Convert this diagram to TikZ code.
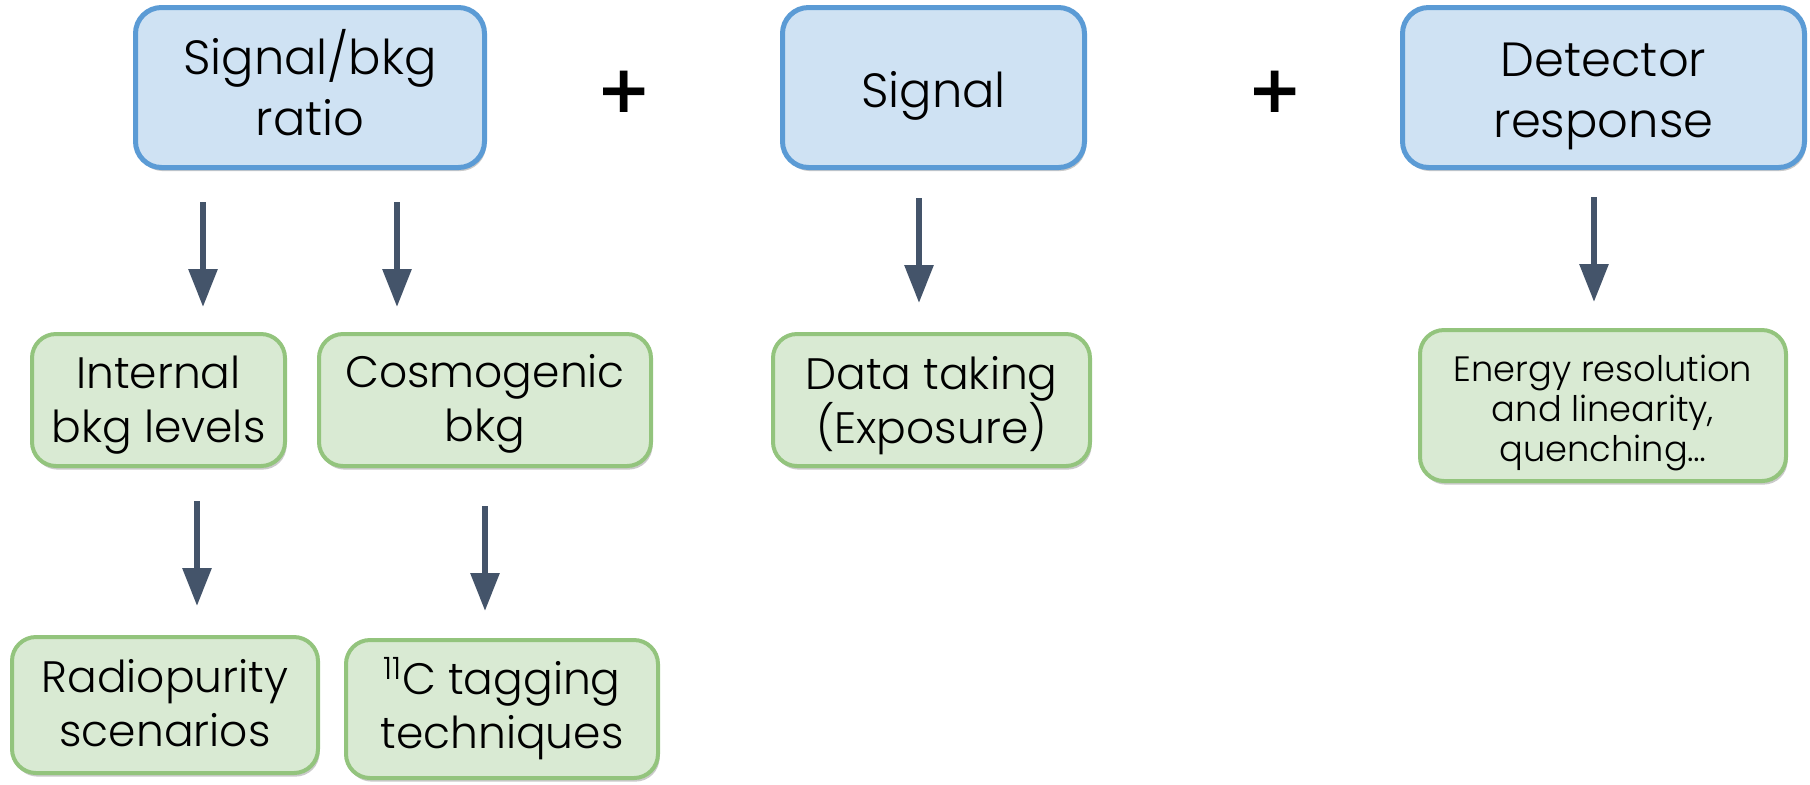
\documentclass[tikz,border=0pt]{standalone}
\usepackage{fontspec}
\setmainfont{Poppins}[UprightFont={* Light}]
\newfontfamily\plusfont{DejaVu Sans}[UprightFont={* Bold}]
\usetikzlibrary{arrows.meta,shadows}
\definecolor{bluefill}{HTML}{CFE2F3}
\definecolor{blueline}{HTML}{5B9BD5}
\definecolor{greenfill}{HTML}{D9EAD3}
\definecolor{greenline}{HTML}{93C47D}
\definecolor{arrowcol}{HTML}{44546A}
\tikzset{
  topbox/.style={draw=blueline, fill=bluefill, line width=2.5pt, rounded corners=13pt,
    inner sep=0pt, minimum height=80pt,
    drop shadow={shadow xshift=0.8pt, shadow yshift=-1.8pt, opacity=0.35, fill=black!60}},
  subbox/.style={draw=greenline, fill=greenfill, line width=2pt, rounded corners=12pt,
    inner sep=0pt, minimum height=66pt,
    drop shadow={shadow xshift=0.8pt, shadow yshift=-1.8pt, opacity=0.35, fill=black!60}},
  toptext/.style={align=center, inner sep=0pt, font=\fontsize{24}{30.5}\selectfont},
  subtext/.style={align=center, inner sep=0pt, font=\fontsize{22}{27}\selectfont},
  smalltext/.style={align=center, inner sep=0pt, font=\fontsize{17.6}{20}\selectfont},
  downarrow/.style={draw=arrowcol, line width=3pt, -{Triangle[width=14pt,length=19pt]}, arrowcol},
  plussign/.style={font=\plusfont\fontsize{33}{33}\selectfont, inner sep=0pt}
}
\begin{document}
\begin{tikzpicture}[x=0.5pt,y=-0.5pt]
\useasboundingbox (0,0) rectangle (1810,784);
% top boxes
\node[topbox, minimum width=174.5pt] (B1) at (310,87.5) {};
\node[toptext, yshift=2.5pt] (B1t) at (B1) {Signal/bkg\\ratio};
\node[topbox, minimum width=151pt] (B2) at (933.5,87.5) {};
\node[toptext, yshift=-4pt] (B2t) at (B2) {Signal};
\node[topbox, minimum width=201pt] (B3) at (1603.5,87.5) {};
\node[toptext, yshift=-4.3pt] (B3t) at (B3) {Detector\\response};
% plus signs
\node[plussign] (P1) at (624,92) {+};
\node[plussign] (P2) at (1275,92) {+};
% second row
\node[subbox, minimum width=126.5pt] (G1) at (158.5,400) {};
\node[subtext, yshift=-2.6pt] (G1t) at (G1) {Internal\\bkg levels};
\node[subbox, minimum width=166pt] (G2) at (485,400) {};
\node[subtext, yshift=-2pt] (G2t) at (G2) {Cosmogenic\\bkg};
\node[subbox, minimum width=158.5pt] (G3) at (931.5,400) {};
\node[subtext, yshift=-2.9pt] (G3t) at (G3) {Data taking\\(Exposure)};
\node[subbox, minimum width=183pt, minimum height=75.5pt] (G4) at (1603,405.5) {};
\node[smalltext, yshift=-3.5pt] (G4t) at (G4) {Energy resolution\\and linearity,\\quenching…};
% third row
\node[subbox, minimum width=153pt, minimum height=68pt] (G5) at (165,705) {};
\node[subtext, yshift=0.8pt] (G5t) at (G5) {Radiopurity\\scenarios};
\node[subbox, minimum width=156pt, minimum height=69pt] (G6) at (502,709) {};
\node[subtext] (G6t) at (G6) {\textsuperscript{11}C tagging\\techniques};
% arrow end points
\coordinate (a1s) at (203,202); \coordinate (a1e) at (203,307);
\coordinate (a2s) at (397,202); \coordinate (a2e) at (397,307);
\coordinate (a3s) at (919,198); \coordinate (a3e) at (919,303);
\coordinate (a4s) at (1594,197); \coordinate (a4e) at (1594,302);
\coordinate (a5s) at (197,501); \coordinate (a5e) at (197,606);
\coordinate (a6s) at (485,506); \coordinate (a6e) at (485,611);
\draw[downarrow] (a1s) -- (a1e);
\draw[downarrow] (a2s) -- (a2e);
\draw[downarrow] (a3s) -- (a3e);
\draw[downarrow] (a4s) -- (a4e);
\draw[downarrow] (a5s) -- (a5e);
\draw[downarrow] (a6s) -- (a6e);
\end{tikzpicture}
\end{document}
